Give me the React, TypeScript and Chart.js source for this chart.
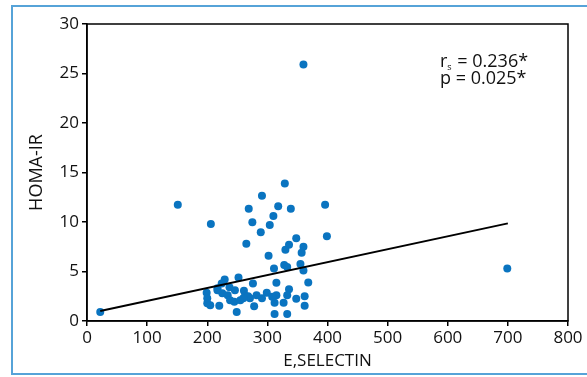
import React, { useEffect, useRef } from "react";
import { Chart, registerables } from "chart.js";

Chart.register(...registerables);

// E-selectin (x) vs HOMA-IR (y)
const eSelectin: number[] = [
  22, 151, 206, 360, 699, 396, 399,
  329, 291, 269, 318, 339, 310, 275, 304, 289, 265, 348, 336, 330, 360, 357, 302, 355, 328, 333, 311, 360,
  368, 315, 276, 252, 229, 224, 217, 237, 199, 200, 200, 205, 220, 249, 312, 333, 362, 362, 348, 336, 327,
  333, 315, 299, 278, 312, 225, 234, 246, 261, 238, 245, 255, 263, 271, 282, 291, 308, 268, 260, 217,
];
const homaIR: number[] = [
  0.9, 11.75, 9.8, 25.9, 5.3, 11.75, 8.55,
  13.9, 12.66, 11.35, 11.6, 11.35, 10.6, 9.97, 9.7, 8.96, 7.8, 8.35, 7.7, 7.2, 7.5, 6.9, 6.6, 5.75, 5.65, 5.45, 5.3, 5.1,
  3.9, 3.87, 3.8, 4.4, 4.2, 3.8, 3.3, 3.4, 2.86, 2.3, 1.8, 1.6, 1.55, 0.9, 0.7, 0.7, 1.55, 2.5, 2.25, 3.2, 1.85,
  2.6, 2.6, 2.86, 1.5, 1.85, 2.8, 2.6, 3.1, 3.06, 2.1, 1.95, 2.1, 2.56, 2.3, 2.6, 2.3, 2.46, 2.5, 2.3, 3.1,
];
// regression line end points
const fitX: number[] = [22, 700];
const fitY: number[] = [1.0, 9.86];

const xTicks: number[] = [0, 100, 200, 300, 400, 500, 600, 700, 800];
const yTicks: number[] = [0, 5, 10, 15, 20, 25, 30];

const statLines = { r: "0.236*", p: "0.025*" };

const FONT = "'Open Sans', 'Noto Sans', sans-serif";

export default function App() {
  const ref = useRef<HTMLCanvasElement | null>(null);

  useEffect(() => {
    const canvas = ref.current;
    if (!canvas) return;

    const boxPlugin = {
      id: "boxAndText",
      afterDraw(chart: any) {
        const { ctx, chartArea } = chart;
        ctx.save();
        ctx.strokeStyle = "#000";
        ctx.lineWidth = 1.5;
        ctx.strokeRect(chartArea.left, chartArea.top, chartArea.right - chartArea.left, chartArea.bottom - chartArea.top);
        // annotation
        ctx.fillStyle = "#111";
        ctx.textBaseline = "middle";
        ctx.textAlign = "left";
        const x0 = chartArea.left + 353;
        const y1 = chartArea.top + 38;
        const y2 = chartArea.top + 55;
        ctx.font = `18px ${FONT}`;
        ctx.fillText("r", x0, y1);
        const rw = ctx.measureText("r").width;
        ctx.font = `9px ${FONT}`;
        ctx.fillText("s", x0 + rw, y1 + 5);
        const sw = ctx.measureText("s").width;
        ctx.font = `18px ${FONT}`;
        ctx.fillText(" = " + statLines.r, x0 + rw + sw + 1, y1);
        ctx.fillText("p = " + statLines.p, x0, y2);
        ctx.restore();
      },
    };

    const chart = new Chart(canvas, {
      type: "scatter",
      data: {
        datasets: [
          {
            type: "line",
            data: fitX.map((x, i) => ({ x, y: fitY[i] })),
            borderColor: "#000",
            borderWidth: 2,
            pointRadius: 0,
            fill: false,
          } as any,
          {
            data: eSelectin.map((x, i) => ({ x, y: homaIR[i] })),
            backgroundColor: "#0a74c0",
            borderColor: "#0a74c0",
            borderWidth: 0,
            pointRadius: 4,
          },
        ],
      },
      options: {
        responsive: false,
        animation: false,
        devicePixelRatio: 1,
        layout: { padding: { left: 0, right: 19, top: 24, bottom: 0 } },
        plugins: { legend: { display: false }, tooltip: { enabled: false } },
        scales: {
          x: {
            type: "linear",
            min: 0,
            max: 800,
            afterBuildTicks: (s: any) => {
              s.ticks = xTicks.map((v) => ({ value: v }));
            },
            afterFit: (s: any) => {
              s.height = 56;
            },
            grid: { drawOnChartArea: false, drawTicks: true, tickLength: 5, color: "#000", lineWidth: 1.5 },
            border: { color: "#000", width: 1.5 },
            ticks: { color: "#111", font: { family: FONT, size: 17 }, padding: 2 },
            title: {
              display: true,
              text: "E,SELECTIN",
              color: "#111",
              font: { family: FONT, size: 17 },
              padding: { top: 0, bottom: 6 },
            },
          },
          y: {
            type: "linear",
            min: 0,
            max: 30,
            afterBuildTicks: (s: any) => {
              s.ticks = yTicks.map((v) => ({ value: v }));
            },
            afterFit: (s: any) => {
              s.width = 87;
            },
            grid: { drawOnChartArea: false, drawTicks: true, tickLength: 5, color: "#000", lineWidth: 1.5 },
            border: { color: "#000", width: 1.5 },
            ticks: { color: "#111", font: { family: FONT, size: 17 }, padding: 3 },
            title: {
              display: true,
              text: "HOMA-IR",
              color: "#111",
              font: { family: FONT, size: 18 },
              padding: { top: 26, bottom: 0 },
            },
          },
        },
      },
      plugins: [boxPlugin],
    });

    return () => chart.destroy();
  }, []);

  return (
    <div style={{ position: "fixed", left: 0, top: 0, width: 587, height: 377, overflow: "hidden", background: "#fff" }}>
      <div
        style={{
          position: "absolute",
          left: 11,
          top: 5,
          width: 700,
          height: 370,
          boxSizing: "border-box",
          border: "2px solid #56a3d8",
        }}
      />
      <canvas ref={ref} width={587} height={377} style={{ position: "absolute", left: 0, top: 0 }} />
    </div>
  );
}
